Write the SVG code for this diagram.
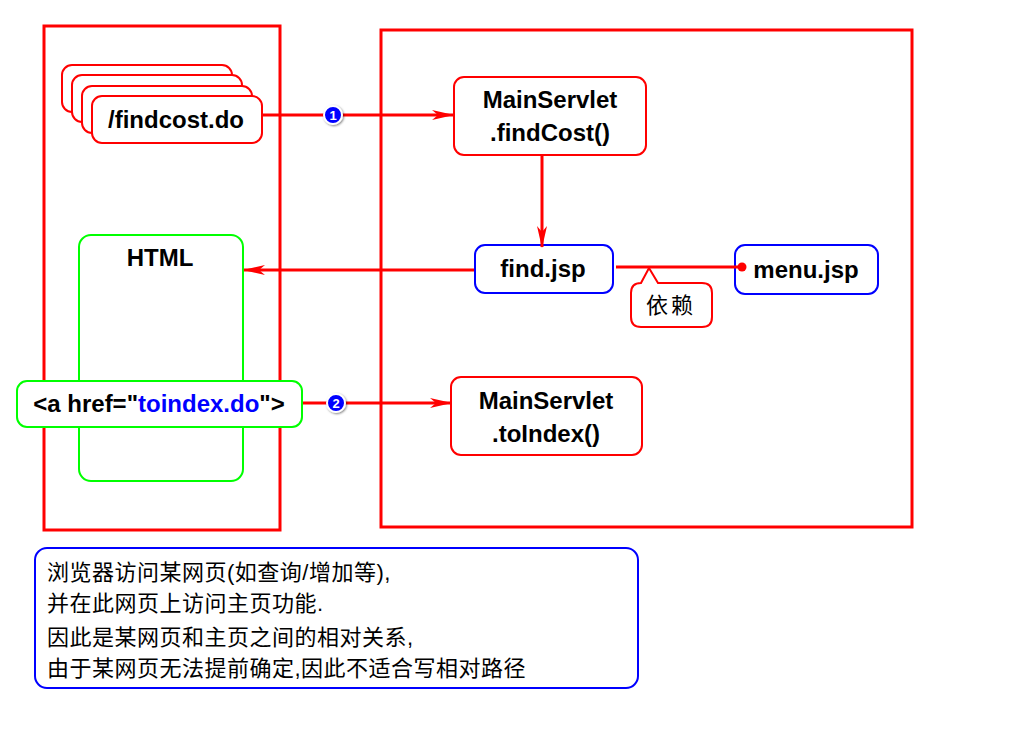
<svg xmlns="http://www.w3.org/2000/svg" width="1024" height="738" viewBox="0 0 1024 738">
<style>
.t{font-family:"Liberation Sans",Arial,sans-serif;font-weight:bold;font-size:24px;fill:#000;text-anchor:middle}
.cjk{font-family:"Liberation Sans","Noto Sans CJK SC",sans-serif;font-size:22px;fill:#000;letter-spacing:0.5px}
.red{fill:#fff;stroke:#ff0000;stroke-width:2}
.blue{fill:#fff;stroke:#0000ff;stroke-width:2}
.green{fill:#fff;stroke:#00ff00;stroke-width:2}
.frame{fill:none;stroke:#ff0000;stroke-width:3}
.conn{fill:none;stroke:#ff0000;stroke-width:3}
.num{fill:#0000ff;stroke:#fff;stroke-width:2}
.numt{font-family:"Liberation Sans",Arial,sans-serif;font-weight:bold;font-size:13px;fill:#fff;text-anchor:middle}
</style>
<defs>
<marker id="ah" markerWidth="22" markerHeight="12" refX="21" refY="6" orient="auto" markerUnits="userSpaceOnUse">
<path d="M0,1 L22,6 L0,11 L6,6 Z" fill="#ff0000"/>
</marker>
<marker id="dot" markerWidth="10" markerHeight="10" refX="5" refY="5" markerUnits="userSpaceOnUse">
<circle cx="5" cy="5" r="4.5" fill="#ff0000"/>
</marker>
<filter id="sh" x="-50%" y="-50%" width="200%" height="200%">
<feDropShadow dx="1" dy="1" stdDeviation="1" flood-color="#000" flood-opacity="0.5"/>
</filter>
</defs>
<rect width="1024" height="738" fill="#fff"/>
<g id="browser-frame"><rect class="frame" x="44" y="26" width="236" height="504"/></g>
<g id="server-frame"><rect class="frame" x="381" y="30" width="531" height="497"/></g>

<g id="html"><rect class="green" x="79" y="235" width="164" height="246" rx="12"/><text class="t" x="160" y="266">HTML</text></g>

<g id="findcost">
<rect class="red" x="62" y="65" width="170" height="47" rx="10"/>
<rect class="red" x="72" y="75" width="170" height="47" rx="10"/>
<rect class="red" x="82" y="86" width="170" height="47" rx="10"/>
<rect class="red" x="92" y="96" width="170" height="47" rx="10"/>
<text class="t" x="176" y="128">/findcost.do</text>
</g>

<g id="findCost"><rect class="red" x="454" y="77" width="192" height="78" rx="10"/><text class="t" x="550" y="108">MainServlet</text><text class="t" x="550" y="141">.findCost()</text></g>

<g id="findjsp"><rect class="blue" x="475" y="245" width="138" height="48" rx="10"/><text class="t" x="543" y="277">find.jsp</text></g>

<g id="menujsp"><rect class="blue" x="735" y="245" width="143" height="49" rx="10"/><text class="t" x="806" y="278">menu.jsp</text></g>

<g id="callout"><path d="M641,283 L649,268 L658,283 L702,283 Q712,283 712,293 L712,317 Q712,327 702,327 L641,327 Q631,327 631,317 L631,293 Q631,283 641,283 Z" fill="#fff" stroke="#ff0000" stroke-width="2"/><text class="cjk" x="671" y="313" text-anchor="middle" style="letter-spacing:3px">依赖</text></g>

<g id="ahref"><rect class="green" x="17" y="381" width="285" height="46" rx="10"/><text class="t" x="159" y="412">&lt;a href="<tspan fill="#0000ff">toindex.do</tspan>"&gt;</text></g>

<g id="toIndex"><rect class="red" x="451" y="377" width="191" height="78" rx="10"/><text class="t" x="546" y="409">MainServlet</text><text class="t" x="546" y="442">.toIndex()</text></g>

<g id="connectors">
<line class="conn" x1="263" y1="115" x2="453" y2="115" marker-end="url(#ah)"/>
<line class="conn" x1="542" y1="156" x2="542" y2="247" marker-end="url(#ah)"/>
<line class="conn" x1="474" y1="270" x2="244" y2="270" marker-end="url(#ah)"/>
<line class="conn" x1="616" y1="267" x2="742" y2="267" marker-end="url(#dot)"/>
<line class="conn" x1="303" y1="403" x2="451" y2="403" marker-end="url(#ah)"/>
</g>

<g id="n1"><circle class="num" cx="333" cy="115" r="9" filter="url(#sh)"/><text class="numt" x="333" y="119.5">1</text></g>
<g id="n2"><circle class="num" cx="336" cy="403" r="9" filter="url(#sh)"/><text class="numt" x="336" y="407.5">2</text></g>

<g id="note"><rect class="blue" x="35" y="548" width="603" height="140" rx="12"/>
<text class="cjk" x="47" y="580">浏览器访问某网页(如查询/增加等),</text>
<text class="cjk" x="47" y="611">并在此网页上访问主页功能.</text>
<text class="cjk" x="47" y="645">因此是某网页和主页之间的相对关系,</text>
<text class="cjk" x="47" y="676">由于某网页无法提前确定,因此不适合写相对路径</text>
</g>
</svg>
